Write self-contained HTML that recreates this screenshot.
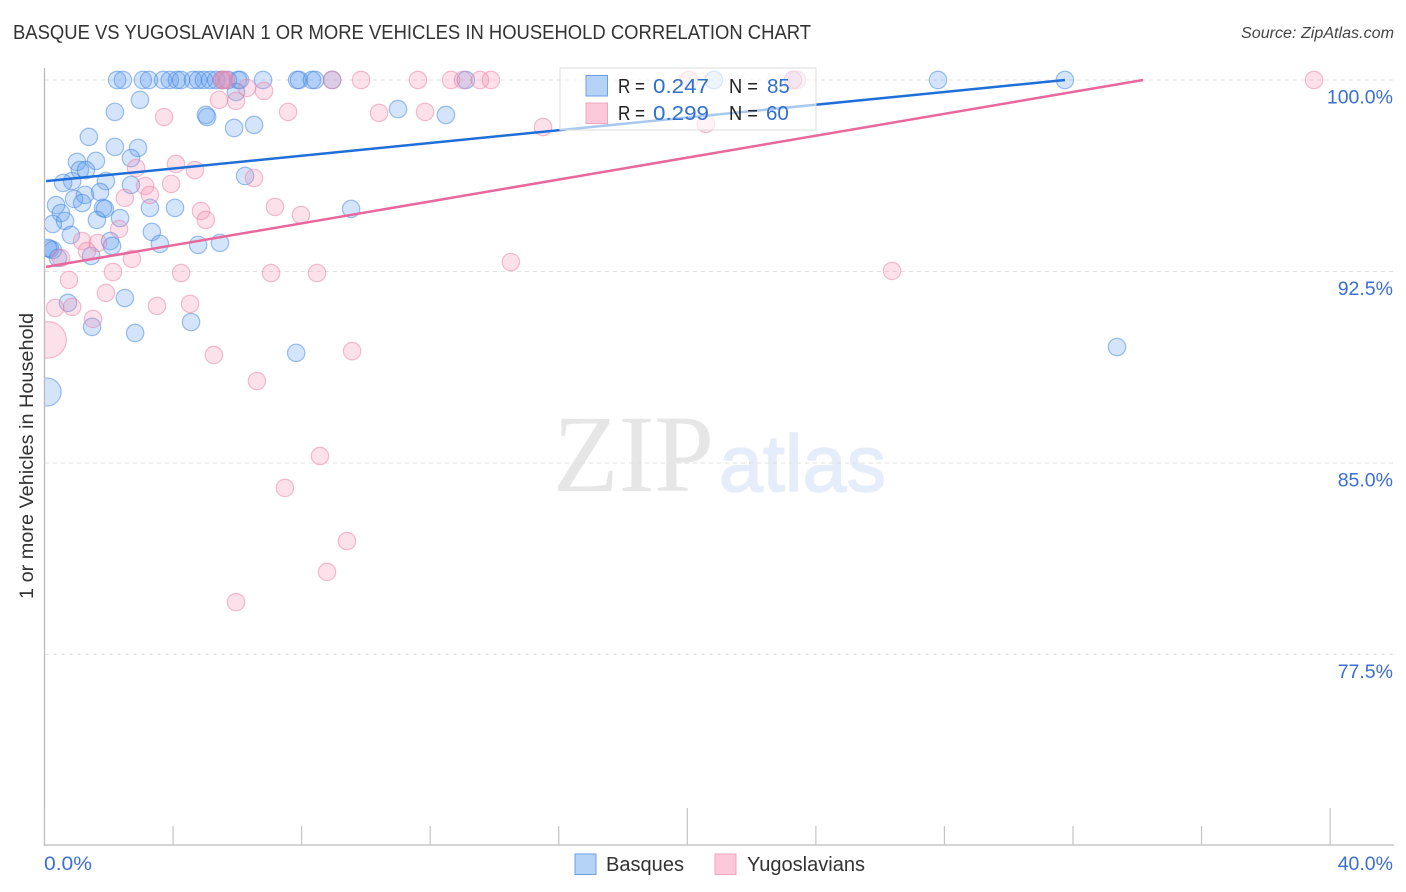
<!DOCTYPE html>
<html lang="en">
<head>
<meta charset="utf-8">
<title>Basque vs Yugoslavian correlation chart</title>
<style>
html,body{margin:0;padding:0;background:#fff;}
svg{display:block;font-family:"Liberation Sans",sans-serif;}
</style>
</head>
<body>
<svg id="chart" width="1406" height="892" viewBox="0 0 1406 892" xmlns="http://www.w3.org/2000/svg">
<text x="13" y="39" font-size="20" fill="#333" textLength="798" lengthAdjust="spacingAndGlyphs">BASQUE VS YUGOSLAVIAN 1 OR MORE VEHICLES IN HOUSEHOLD CORRELATION CHART</text>
<text x="1394" y="38" font-size="15.5" font-style="italic" fill="#444" text-anchor="end" textLength="153" lengthAdjust="spacingAndGlyphs">Source: ZipAtlas.com</text>
<g>
<text x="553" y="491" font-family="'Liberation Serif',serif" font-size="110" fill="#e6e6e6" textLength="161" lengthAdjust="spacingAndGlyphs">ZIP</text>
<text x="719" y="491" font-size="80" fill="#e4edf9" stroke="#e4edf9" stroke-width="1.5" textLength="167" lengthAdjust="spacingAndGlyphs">atlas</text>
</g>
<g id="grid"></g>
<g id="points"></g>
<rect x="0" y="60" width="44.5" height="800" fill="#fff"/>
<g id="axes"></g>
<g id="trends"></g>
<text transform="translate(33,456) rotate(-90)" font-size="19" fill="#333" text-anchor="middle" textLength="286" lengthAdjust="spacingAndGlyphs">1 or more Vehicles in Household</text>
<g>
<rect x="560" y="68" width="256" height="62" fill="#fff" fill-opacity="0.62" stroke="#ddd" stroke-width="1"/>
<rect x="586" y="75.500" width="21.500" height="20.500" fill="#b5d3f7" stroke="#6f9fe0"/>
<rect x="586" y="103" width="21.500" height="20.500" fill="#fcc8da" stroke="#efa5bf"/>
<text x="618" y="93" font-size="20" fill="#222" textLength="27" lengthAdjust="spacingAndGlyphs">R =</text>
<text x="653" y="93" font-size="20.500" fill="#2f6fd0" textLength="56" lengthAdjust="spacingAndGlyphs">0.247</text>
<text x="729" y="93" font-size="20" fill="#222" textLength="29" lengthAdjust="spacingAndGlyphs">N =</text>
<text x="767" y="93" font-size="20.500" fill="#2f6fd0">85</text>
<text x="618" y="120" font-size="20" fill="#222" textLength="27" lengthAdjust="spacingAndGlyphs">R =</text>
<text x="653" y="120" font-size="20.500" fill="#2f6fd0" textLength="56" lengthAdjust="spacingAndGlyphs">0.299</text>
<text x="729" y="120" font-size="20" fill="#222" textLength="29" lengthAdjust="spacingAndGlyphs">N =</text>
<text x="766" y="120" font-size="20.500" fill="#2f6fd0">60</text>
</g>
<g>
<rect x="575" y="854" width="21" height="20.500" fill="#b5d3f7" stroke="#6f9fe0"/>
<text x="606" y="871" font-size="20" fill="#333" textLength="78" lengthAdjust="spacingAndGlyphs">Basques</text>
<rect x="715" y="854" width="21" height="20.500" fill="#fcc8da" stroke="#efa5bf"/>
<text x="747" y="871" font-size="20" fill="#333" textLength="118" lengthAdjust="spacingAndGlyphs">Yugoslavians</text>
</g>
</svg>
<script>
const yTickValues = [100, 92.5, 85, 77.5];
const yTickLabels = ["100.0%", "92.5%", "85.0%", "77.5%"];
const xTickValues = [0, 4, 8, 12, 16, 20, 24, 28, 32, 36, 40];
const xMajorTicks = [0, 20, 40];
const xEndLabels = ["0.0%", "40.0%"];

const basqueX = [2.26,2.44,3.06,3.25,3.69,3.90,4.12,4.25,4.62,4.78,4.96,5.15,5.34,5.52,5.71,6.02,6.08,6.80,7.86,7.92,8.32,8.42,8.95,13.11,20.83,23.29,27.80,31.75,
2.19,2.97,5.02,5.06,5.90,6.52,11.00,12.49,5.96,1.38,2.19,2.91,2.69,1.01,1.60,1.10,1.29,0.86,0.58,1.91,2.69,6.24,1.26,1.73,0.92,1.17,0.36,1.82,1.88,3.28,4.06,9.54,0.51,0.64,1.63,2.35,0.26,0.82,3.34,2.04,2.10,3.59,4.78,5.46,0.17,0.26,0.42,1.45,0.73,2.50,1.48,2.82,4.56,7.83,33.37,0.08,0.11];
const basqueY = [100,100,100,100,100,100,100,100,100,100,100,100,100,100,100,100,100,100,100,100,100,100,100,100,100,100,100,100,
98.75,99.22,98.63,98.55,98.12,98.24,98.86,98.63,99.53,97.77,97.38,97.34,96.94,96.79,96.83,96.47,96.47,96.04,95.97,96.04,95.89,96.24,95.50,95.61,95.34,95.18,95.10,94.99,94.95,94.99,94.99,94.95,94.79,94.48,94.52,94.59,94.36,93.93,94.05,93.69,93.50,93.58,93.54,93.62,93.38,93.34,93.03,93.11,91.27,91.46,90.33,90.09,90.52,89.31,89.54,87.78,93.42];
const basqueWeight = [1,1,1,1,1,1,1,1,1,1,1,1,1,1,1,1,1,1,1,1,1,1,1,1,1,1,1,1,
1,1,1,1,1,1,1,1,1,1,1,1,1,1,1,1,1,1,1,1,1,1,1,1,1,1,1,1,1,1,1,1,1,1,1,1,1,1,1,1,1,1,1,1,1,1,1,1,1,1,1,1,1,1,1,2.6,1];

const yugoslavX = [5.52,5.58,5.65,8.95,9.85,11.62,12.65,13.02,13.55,13.89,20.05,23.29,23.41,39.50,
6.30,6.83,5.43,5.96,3.72,7.58,10.41,11.84,15.51,20.58,4.09,4.68,2.85,6.52,3.94,3.13,3.28,2.50,4.87,5.02,7.17,7.98,2.32,1.17,1.66,1.32,2.72,0.51,2.13,4.25,7.05,8.48,14.51,26.37,0.76,1.91,0.33,0.86,3.50,4.53,1.51,5.27,9.57,0.11,6.61,8.57,7.48,9.41,8.79,5.96];
const yugoslavY = [100,100,100,100,100,100,100,100,100,100,100,100,100,100,
99.69,99.57,99.22,99.18,98.55,98.75,98.71,98.75,98.16,98.28,96.71,96.47,96.55,96.16,95.93,95.85,95.50,95.38,94.87,94.52,95.03,94.71,94.16,93.69,93.62,93.30,92.99,93.03,92.48,92.44,92.44,92.44,92.87,92.52,92.17,91.66,91.07,91.11,91.15,91.23,90.64,89.23,89.38,89.82,88.21,85.27,84.02,81.94,80.73,79.55];
const yugoslavWeight = [1,1,1,1,1,1,1,1,1,1,1,1,1,1,
1,1,1,1,1,1,1,1,1,1,1,1,1,1,1,1,1,1,1,1,1,1,1,1,1,1,1,1,1,1,1,1,1,1,1,1,1,1,1,1,1,1,1,4.4,1,1,1,1,1,1];

const basqueTrendX = [0.05, 31.75];
const basqueTrendY = [96.04, 100];
const yugoslavTrendX = [0.05, 34.18];
const yugoslavTrendY = [92.68, 100];

const NS = "http://www.w3.org/2000/svg";
function xScale(v){ return 44.5 + v * 32.14; }
function yScale(v){ return 80 + (100 - v) * 25.53; }
function radius(w){ return Math.sqrt(76 * w); }
function make(tag, attrs, parent){
  const el = document.createElementNS(NS, tag);
  for (const k in attrs) el.setAttribute(k, attrs[k]);
  parent.appendChild(el);
  return el;
}

const grid = document.getElementById("grid");
const axes = document.getElementById("axes");
const points = document.getElementById("points");
const trends = document.getElementById("trends");

yTickValues.forEach(function(v, i){
  const line = make("line", {x1:45, x2:1394, y1:yScale(v), y2:yScale(v), stroke:"#e0e0e0", "stroke-width":1, "stroke-dasharray":"4 4"}, grid);
  
  
  const label = make("text", {x:1393, y:yScale(v)+23.5, "font-size":19.5, fill:"#3b6fd4", "text-anchor":"end"}, axes);
  label.textContent = yTickLabels[i];
  
  
});

const yAxis = make("line", {x1:44.5, x2:44.5, y1:68, y2:846, stroke:"#bbbbbb", "stroke-width":1.3}, axes);


const xAxis = make("line", {x1:44, x2:1394, y1:845, y2:845, stroke:"#bbbbbb", "stroke-width":1.3}, axes);



xTickValues.forEach(function(v){
  const top = xMajorTicks.indexOf(v) >= 0 ? 808 : 826;
  const tick = make("line", {x1:xScale(v), x2:xScale(v), y1:top, y2:845, stroke:"#c4c4c4", "stroke-width":1.2}, axes);
  
  
});

const xLabelLeft = make("text", {x:44, y:870, "font-size":19.5, fill:"#3b6fd4", textLength:48, lengthAdjust:"spacingAndGlyphs"}, axes);
xLabelLeft.textContent = xEndLabels[0];


const xLabelRight = make("text", {x:1393, y:870, "font-size":19.5, fill:"#3b6fd4", "text-anchor":"end"}, axes);
xLabelRight.textContent = xEndLabels[1];



basqueX.forEach(function(v, i){
  const c = make("circle", {cx:xScale(v), cy:yScale(basqueY[i]), r:radius(basqueWeight[i]), fill:"#5b9cf0", "fill-opacity":0.27, stroke:"#3f84de", "stroke-opacity":0.5, "stroke-width":1.2}, points);
  
  
});
yugoslavX.forEach(function(v, i){
  const c = make("circle", {cx:xScale(v), cy:yScale(yugoslavY[i]), r:radius(yugoslavWeight[i]), fill:"#f48fb1", "fill-opacity":0.27, stroke:"#e880a5", "stroke-opacity":0.5, "stroke-width":1.2}, points);
  
  
});

const blueTrend = make("line", {x1:xScale(basqueTrendX[0]), y1:yScale(basqueTrendY[0]), x2:xScale(basqueTrendX[1]), y2:yScale(basqueTrendY[1]), stroke:"#1f6fd8", "stroke-width":2.5}, trends);


const pinkTrend = make("line", {x1:xScale(yugoslavTrendX[0]), y1:yScale(yugoslavTrendY[0]), x2:xScale(yugoslavTrendX[1]), y2:yScale(yugoslavTrendY[1]), stroke:"#e8689c", "stroke-width":2.5}, trends);


</script>
</body>
</html>
